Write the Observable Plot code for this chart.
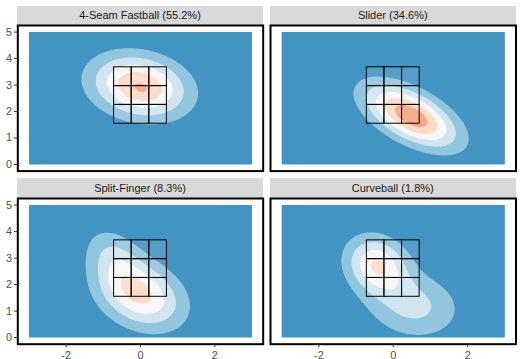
<!DOCTYPE html>
<html>
<head>
<meta charset="utf-8">
<script src="https://cdn.jsdelivr.net/npm/d3@7"></script>
<script src="https://cdn.jsdelivr.net/npm/@observablehq/plot@0.6"></script>
<style>
  html, body { margin: 0; padding: 0; background: #fff; }
  #chart { position: relative; width: 520px; height: 359px; background: #fff; overflow: hidden;
           font-family: "Liberation Sans", Arial, sans-serif; }
  .strip { position: absolute; background: #D9D9D9; color: #1A1A1A; font-size: 11px;
           display: flex; align-items: center; justify-content: center; white-space: nowrap; }
  .panel { position: absolute; }
  .panel svg { overflow: visible; }
</style>
</head>
<body>
<div id="chart"></div>
<script>
// ---- data ----
const pitches = ["4-Seam Fastball", "Slider", "Split-Finger", "Curveball"];
const shares = [55.2, 34.6, 8.3, 1.8];

// smoothed location-density components (plate_x ft, plate_z ft) per pitch type
const compPitch = ["4-Seam Fastball", "4-Seam Fastball", "Slider", "Split-Finger", "Split-Finger", "Curveball", "Curveball"];
const compX     = [-0.02, 0.10, 0.48,  0.00, -0.70, -0.45, 0.55];
const compY     = [ 2.95, 2.72, 1.83,  1.60,  3.00,  2.75, 1.20];
const compMajor = [ 0.92, 0.25, 1.02,  0.95,  0.85,  0.75, 0.90];
const compMinor = [ 0.75, 0.20, 0.53,  0.70,  0.50,  0.55, 0.80];
const compAngle = [  -33,    0,  -43,   -55,   -70,   -75,  -45];
const compAmp   = [ 5.02, 0.16, 5.75,  4.10,  1.80,  3.90, 2.30];

const densityLevels = [1, 2, 3, 4, 5, 6];
const levelColors = ["#4393C3", "#92C5DE", "#D1E5F0", "#F7F7F7", "#FDDBC7", "#F4A582", "#D6604D"];

// strike zone (ft)
const zoneX = [-0.71, -0.237, 0.237, 0.71];
const zoneY = [1.54, 2.25, 2.96, 3.67];

const xTicks = [-2, 0, 2];
const yTicks = [0, 1, 2, 3, 4, 5];

// ---- build ----
const zoneCells = [];
for (let i = 0; i < 3; i++) for (let j = 0; j < 3; j++)
  zoneCells.push({x1: zoneX[i], x2: zoneX[i + 1], y1: zoneY[j], y2: zoneY[j + 1]});

function densityFn(pitch) {
  const comps = compPitch.map((p, i) => i).filter(i => compPitch[i] === pitch).map(i => {
    const a = compAngle[i] * Math.PI / 180;
    return {mx: compX[i], my: compY[i], sM: compMajor[i], sm: compMinor[i], c: Math.cos(a), s: Math.sin(a), amp: compAmp[i]};
  });
  return (x, y) => {
    let v = 0;
    for (const k of comps) {
      const dx = x - k.mx, dy = y - k.my;
      const u = dx * k.c + dy * k.s, w = -dx * k.s + dy * k.c;
      v += k.amp * Math.exp(-0.5 * (u * u / (k.sM * k.sM) + w * w / (k.sm * k.sm)));
    }
    return v;
  };
}

const chart = document.getElementById("chart");
// pixel layout of the facet grid
const colLeft = [17.3, 270], colRight = [262.7, 515.5];
const rowTop = [25, 197.6], rowBottom = [170.6, 343.3];
const stripH = 19.5;

pitches.forEach((pitch, idx) => {
  const r = Math.floor(idx / 2), c = idx % 2;
  const px0 = colLeft[c], px1 = colRight[c], py0 = rowTop[r], py1 = rowBottom[r];

  const strip = document.createElement("div");
  strip.className = "strip";
  strip.style.left = px0 + "px";
  strip.style.top = (py0 - stripH) + "px";
  strip.style.width = (px1 - px0) + "px";
  strip.style.height = stripH + "px";
  strip.textContent = `${pitch} (${shares[idx]}%)`;
  chart.appendChild(strip);

  const svgLeft = c === 0 ? 0 : px0 - 3;
  const svgTop = py0 - 3;
  const mL = px0 - svgLeft, mT = 3, mR = 3;
  const mB = r === 1 ? (359 - py1) : 3;
  const width = mL + (px1 - px0) + mR;
  const height = mT + (py1 - py0) + mB;

  const marks = [
    Plot.contour({
      x1: -3, x2: 3, y1: 0, y2: 5,
      value: densityFn(pitch),
      thresholds: [0, ...densityLevels.slice(0, 5)],
      fill: "value", stroke: "none", pixelSize: 1
    }),
    Plot.rect(zoneCells, {x1: "x1", x2: "x2", y1: "y1", y2: "y2", fill: "white", fillOpacity: 0.1, stroke: "black", strokeWidth: 1}),
    Plot.frame({stroke: "black", strokeWidth: 2})
  ];
  if (c === 0) marks.push(Plot.axisY(yTicks, {tickSize: 3.4, tickPadding: 2.5, stroke: "#333333", fill: "#4D4D4D", fontSize: 10.8, tickFormat: d => String(d)}));
  if (r === 1) marks.push(Plot.axisX(xTicks, {tickSize: 3.4, tickPadding: 3.5, stroke: "#333333", fill: "#4D4D4D", fontSize: 10.8, tickFormat: d => String(d)}));

  const plot = Plot.plot({
    width, height,
    marginLeft: mL, marginRight: mR, marginTop: mT, marginBottom: mB,
    style: {fontFamily: "Liberation Sans, Arial, sans-serif", fontSize: "10.8px", background: "transparent", overflow: "visible"},
    x: {domain: [-3.3, 3.3], axis: null},
    y: {domain: [-0.25, 5.25], axis: null},
    color: {type: "threshold", domain: densityLevels, range: levelColors},
    marks
  });
  const holder = document.createElement("div");
  holder.className = "panel";
  holder.style.left = svgLeft + "px";
  holder.style.top = svgTop + "px";
  holder.appendChild(plot);
  chart.appendChild(holder);
});
</script>
</body>
</html>
